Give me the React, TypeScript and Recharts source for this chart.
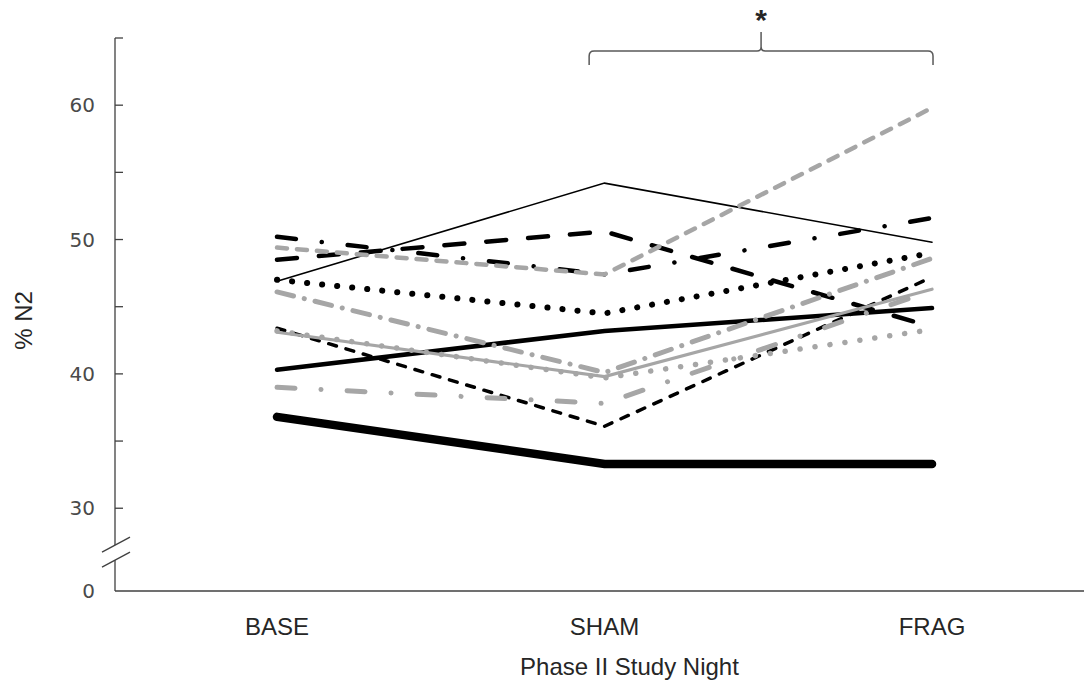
import React from "react"
import { LineChart, Line, XAxis, YAxis, ReferenceLine, Label } from "recharts"

// study nights
const categories = ["BASE", "SHAM", "FRAG"]

// % N2 per subject, one array per subject line
const thinBlackSolid = [46.9, 54.2, 49.8]
const blackLongDash = [48.5, 50.6, 43.5]
const blackLongDashDot = [50.2, 47.4, 51.6]
const grayShortDash = [49.4, 47.4, 59.8]
const blackDotted = [47.0, 44.5, 49.0]
const grayDashDotUpper = [46.1, 40.1, 48.6]
const grayDotted = [43.2, 39.7, 43.3]
const graySolid = [43.1, 39.8, 46.3]
const blackShortDash = [43.4, 36.1, 47.2]
const blackSolid = [40.3, 43.2, 44.9]
const grayDashDotLower = [39.0, 37.8, 46.2]
const blackHeavy = [36.8, 33.3, 33.3]

// y axis: broken scale, "0" is drawn at the bottom of the axis
const yZero = 23.84
const yBreak = 26.7
const yTop = 65
const yLabeled = [30, 40, 50, 60]
const yMinor = [35, 45, 55, 65]
const yTicks = [yZero, yBreak, ...yLabeled, ...yMinor]

// significance bracket between SHAM and FRAG
const bracketFrom = { x: 0.953, y: 62.99 }
const bracketTo = { x: 2.003, y: 64.03 }
const bracketText = "*"

const BLACK = "#000000"
const GRAY = "#a6a6a6"
const AXIS = "#404040"
const TEXT = "#262626"

const series = [
  { key: "blackHeavy", values: blackHeavy, stroke: BLACK, width: 8.5, dash: undefined },
  { key: "blackSolid", values: blackSolid, stroke: BLACK, width: 4.5, dash: undefined },
  { key: "blackShortDash", values: blackShortDash, stroke: BLACK, width: 3.5, dash: "8 10" },
  { key: "thinBlackSolid", values: thinBlackSolid, stroke: BLACK, width: 1.6, dash: undefined },
  { key: "blackLongDash", values: blackLongDash, stroke: BLACK, width: 4.5, dash: "20 22" },
  { key: "blackLongDashDot", values: blackLongDashDot, stroke: BLACK, width: 4.5, dash: "19 26 0.1 26" },
  { key: "blackDotted", values: blackDotted, stroke: BLACK, width: 6, dash: "0.1 15" },
  { key: "grayDotted", values: grayDotted, stroke: GRAY, width: 5.5, dash: "0.1 15" },
  { key: "graySolid", values: graySolid, stroke: GRAY, width: 3.2, dash: undefined },
  { key: "grayDashDotLower", values: grayDashDotLower, stroke: GRAY, width: 5, dash: "18 26 0.1 26" },
  { key: "grayDashDotUpper", values: grayDashDotUpper, stroke: GRAY, width: 5, dash: "17 11 0.1 11" },
  { key: "grayShortDash", values: grayShortDash, stroke: GRAY, width: 4.5, dash: "10 10" },
]

const data = categories.map((name, i) => {
  const row: Record<string, number | string> = { idx: i, name }
  series.forEach((s) => {
    row[s.key] = s.values[i]
  })
  return row
})

const TICK_GAP = 20

const YTick = (props: any) => {
  const { x, y, payload } = props
  const v = payload.value
  const ax = x + TICK_GAP
  if (v === yBreak) {
    return (
      <g>
        <rect x={ax - 3} y={y - 7.5} width={6} height={15} fill="#fff" />
        <line x1={ax - 13} y1={y - 0.5} x2={ax + 15} y2={y - 15.5} stroke={AXIS} strokeWidth={1.3} />
        <line x1={ax - 13} y1={y + 14.5} x2={ax + 15} y2={y - 0.5} stroke={AXIS} strokeWidth={1.3} />
      </g>
    )
  }
  const label = v === yZero ? "0" : yLabeled.includes(v) ? String(v) : ""
  return (
    <g>
      {v !== yZero && <line x1={ax} x2={ax + 8} y1={y} y2={y} stroke={AXIS} strokeWidth={1.3} />}
      {label && (
        <text x={x} y={y} dy="0.36em" textAnchor="end" fontFamily="DejaVu Sans" fontSize={20} fill="#4a4a4a">
          {label}
        </text>
      )}
    </g>
  )
}

const Bracket = (props: any) => {
  const { x1, y1, x2, y2 } = props
  const cx = (x1 + x2) / 2
  const peak = y2 - 19
  const r = 5
  const d = [
    `M${x1},${y1} L${x1},${y2 + r} Q${x1},${y2} ${x1 + r},${y2}`,
    `L${cx - 4},${y2} Q${cx},${y2} ${cx},${y2 - 4} L${cx},${peak}`,
    `M${cx},${y2 - 4} Q${cx},${y2} ${cx + 4},${y2}`,
    `L${x2 - r},${y2} Q${x2},${y2} ${x2},${y2 + r} L${x2},${y1}`,
  ].join(" ")
  return (
    <g>
      <path d={d} fill="none" stroke="#595959" strokeWidth={1.5} />
      <text x={cx} y={peak - 2} textAnchor="middle" fontFamily="Liberation Sans" fontWeight="bold" fontSize={30} fill={TEXT}>
        {bracketText}
      </text>
    </g>
  )
}

export default function App() {
  return (
    <div style={{ position: "absolute", left: 0, top: 0, background: "#fff" }}>
      <LineChart width={1084} height={690} data={data} margin={{ top: 38, right: 0, bottom: 0, left: 55 }}>
        <XAxis
          dataKey="idx"
          type="number"
          domain={[-0.4947, 2.464]}
          allowDataOverflow
          ticks={[0, 1, 2]}
          tickFormatter={(i: number) => categories[i]}
          height={99}
          tickSize={0}
          tickMargin={27}
          tickLine={false}
          axisLine={{ stroke: AXIS, strokeWidth: 1.3 }}
          tick={{ fontFamily: "Liberation Sans", fontSize: 24, fill: TEXT }}
        >
          <Label
            content={({ viewBox }: any) => (
              <text
                x={viewBox.x + viewBox.width / 2 + 30}
                y={viewBox.y + 84}
                textAnchor="middle"
                fontFamily="Liberation Sans"
                fontSize={24}
                fill={TEXT}
              >
                Phase II Study Night
              </text>
            )}
          />
        </XAxis>
        <YAxis
          type="number"
          domain={[yZero, yTop]}
          allowDataOverflow
          ticks={yTicks}
          width={60}
          tickSize={0}
          tickMargin={TICK_GAP}
          tickLine={false}
          interval={0}
          axisLine={{ stroke: AXIS, strokeWidth: 1.3 }}
          tick={<YTick />}
        >
          <Label
            content={({ viewBox }: any) => {
              const cx = 32
              const cy = viewBox.y + viewBox.height / 2 + 6
              return (
                <text
                  x={cx}
                  y={cy}
                  transform={`rotate(-90 ${cx} ${cy})`}
                  textAnchor="middle"
                  fontFamily="Liberation Sans"
                  fontSize={24}
                  fill={TEXT}
                >
                  % N2
                </text>
              )
            }}
          />
        </YAxis>
        {series.map((s) => (
          <Line
            key={s.key}
            dataKey={s.key}
            type="linear"
            stroke={s.stroke}
            strokeWidth={s.width}
            strokeDasharray={s.dash}
            strokeLinecap="round"
            dot={false}
            activeDot={false}
            isAnimationActive={false}
          />
        ))}
        <ReferenceLine
          segment={[bracketFrom, bracketTo]}
          ifOverflow="visible"
          shape={(p: any) => <Bracket {...p} />}
        />
      </LineChart>
    </div>
  )
}
